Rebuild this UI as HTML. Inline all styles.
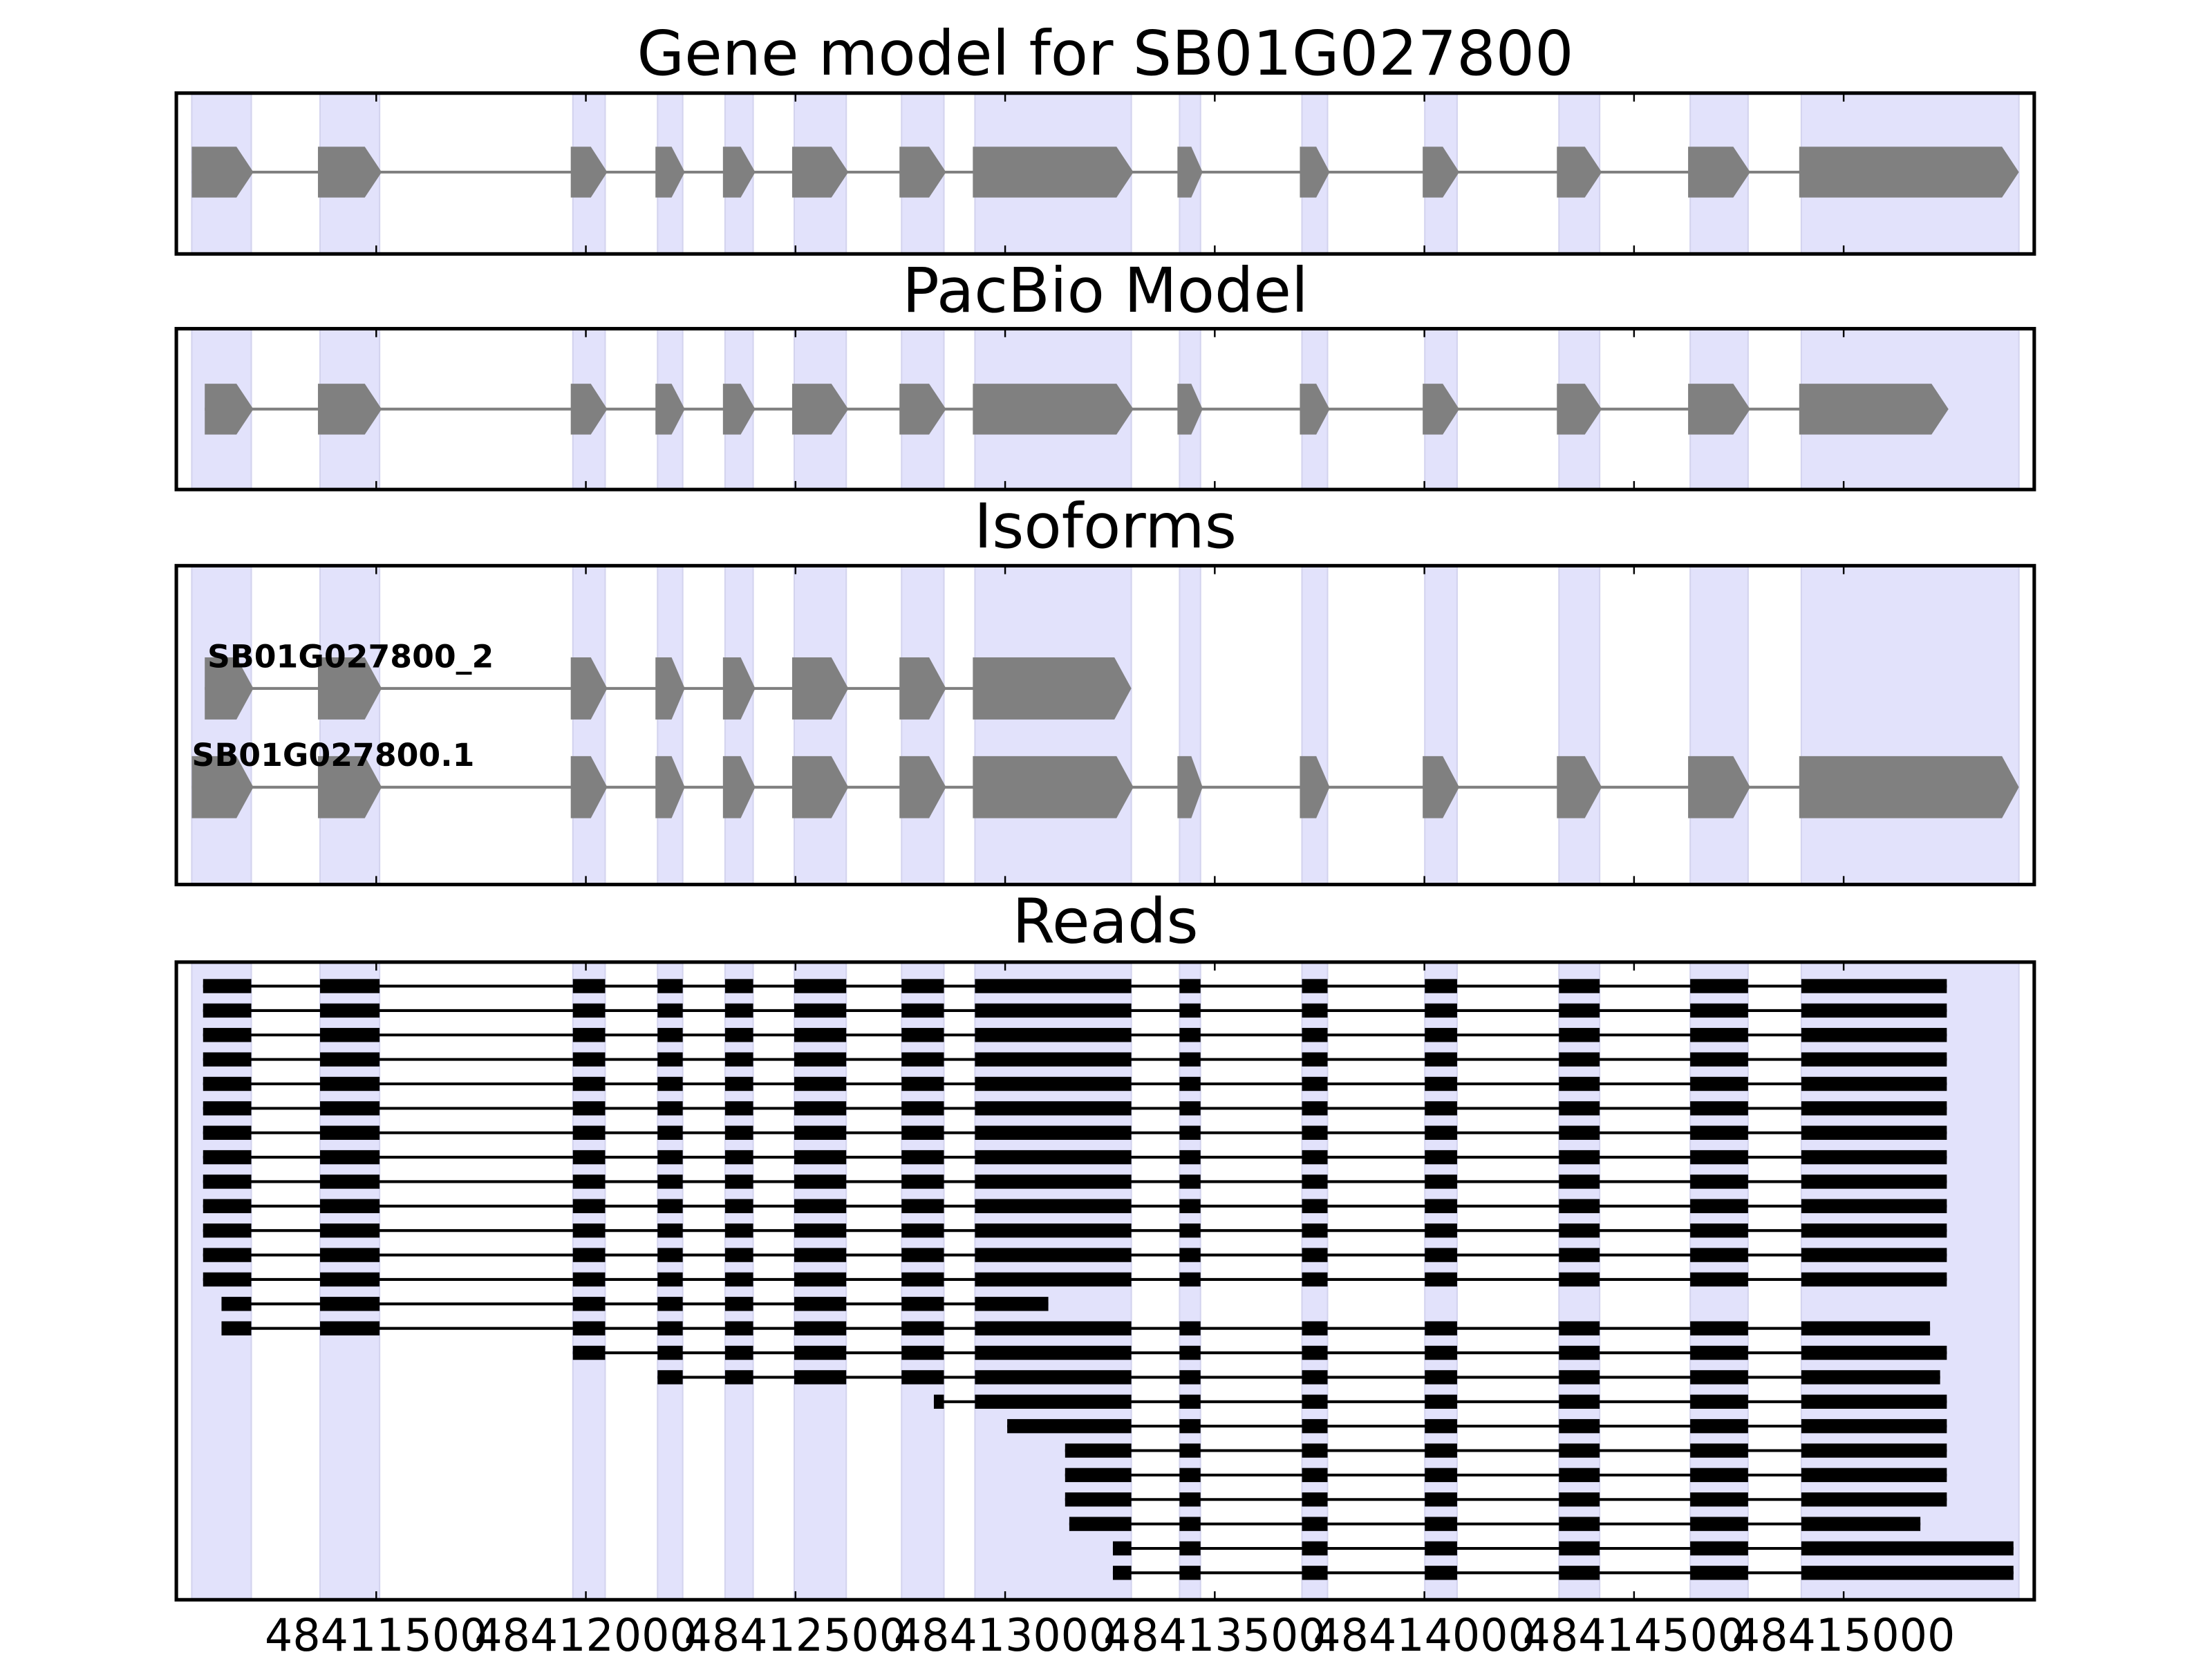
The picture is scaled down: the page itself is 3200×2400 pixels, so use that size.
<!DOCTYPE html>
<html><head><meta charset="utf-8"><style>
html,body{margin:0;padding:0;background:#fff;}
svg{display:block;}
</style></head><body>
<svg id="chart" width="3200" height="2400" viewBox="0 0 1568 1176" xmlns="http://www.w3.org/2000/svg" font-family="'DejaVu Sans','Liberation Sans',sans-serif"></svg>
<script>
// ---- data ----
const tickValues = [48411500,48412000,48412500,48413000,48413500,48414000,48414500,48415000];
const tickLabels = ["48411500","48412000","48412500","48413000","48413500","48414000","48414500","48415000"];
const bandStarts = [48411060,48411366,48411969,48412171,48412332,48412497,48412753,48412928,48413416,48413708,48414001,48414321,48414634,48414899];
const bandEnds   = [48411202,48411508,48412046,48412231,48412399,48412621,48412854,48413301,48413466,48413769,48414078,48414418,48414772,48415418];
const geneModelStart = 48411056, geneModelEnd = 48415425;
const pacbioStart = 48411091, pacbioEnd = 48415250;
const isoformNames = ["SB01G027800_2","SB01G027800.1"];
const isoformStarts = [48411091, 48411056];
const isoformEnds = [48413305, 48415425];
const readStarts = [48411087,48411087,48411087,48411087,48411087,48411087,48411087,48411087,48411087,48411087,48411087,48411087,48411087,
  48411131,48411131,48411969,48412171,48412830,48413005,48413143,48413143,48413143,48413153,48413257,48413257];
const readEnds = [48415246,48415246,48415246,48415246,48415246,48415246,48415246,48415246,48415246,48415246,48415246,48415246,48415246,
  48413103,48415206,48415246,48415230,48415246,48415246,48415246,48415246,48415246,48415183,48415405,48415405];

// ---- layout ----
const svg = document.getElementById('chart');
const NS = 'http://www.w3.org/2000/svg';
const X0 = 125, X1 = 1442;
function x(v){ return 266.7 + (v - 48411500) * 0.2972; }
function mk(tag, attrs, parent){
  const e = document.createElementNS(NS, tag);
  for (const k in attrs) e.setAttribute(k, attrs[k]);
  (parent || svg).appendChild(e);
  return e;
}
const panels = [
  {title:'Gene model for SB01G027800', top:66, bot:180, ty:38, name:'gene-model-panel'},
  {title:'PacBio Model', top:233, bot:347, ty:206, name:'pacbio-panel'},
  {title:'Isoforms', top:401, bot:627, ty:373, name:'isoforms-panel'},
  {title:'Reads', top:682, bot:1134, ty:653, name:'reads-panel'}
];
function exonsIn(s, e){
  const out = [];
  for (let i = 0; i < bandStarts.length; i++){
    const a = Math.max(bandStarts[i], s), b = Math.min(bandEnds[i], e);
    if (b > a) out.push([a, b]);
  }
  return out;
}
function drawModel(g, s, e, cy, h){
  const ex = exonsIn(s, e);
  const line = mk('line', {x1:x(ex[0][0]), x2:x(ex[ex.length-1][1]) - 5, y1:cy, y2:cy, stroke:'#808080', 'stroke-width':2}, g);
  
  
  ex.forEach((exn, i, arr) => {
    let a = x(exn[0]) - 1.5, b = x(exn[1]) + 1.5;
    if (i === 0) a = x(exn[0]);
    if (i === arr.length - 1) b = x(exn[1]);
    const w = b - a, tip = Math.min(12, w * 0.45);
    const p = mk('polygon', {points:`${a},${cy-h/2} ${b-tip},${cy-h/2} ${b},${cy} ${b-tip},${cy+h/2} ${a},${cy+h/2}`, fill:'#808080'}, g);
    
    
  });
}

panels.forEach((p, pi) => {
  const g = mk('g', {});
  
  
  for (let i = 0; i < bandStarts.length; i++){
    const r = mk('rect', {x:x(bandStarts[i]), y:p.top, width:x(bandEnds[i]) - x(bandStarts[i]), height:p.bot - p.top, fill:'#e2e2fb', stroke:'#d3d3ee', 'stroke-width':1}, g);
    
    
  }
  const t = mk('text', {x:(X0 + X1) / 2, y:p.ty + 15, 'text-anchor':'middle', 'font-size':43.5, fill:'#000'});
  t.textContent = p.title;
  
  
  svg.appendChild(t);

  if (pi === 0) drawModel(g, geneModelStart, geneModelEnd, 122, 36);
  if (pi === 1) drawModel(g, pacbioStart, pacbioEnd, 290, 36);
  if (pi === 2){
    const cys = [488, 558], lx = [147, 136], ly = [473, 543];
    isoformNames.forEach((n, i) => {
      drawModel(g, isoformStarts[i], isoformEnds[i], cys[i], 44);
      const lt = mk('text', {x:lx[i], y:ly[i], 'font-size':22.4, 'font-weight':'bold', fill:'#000'}, g);
      lt.textContent = n;
      
      
    });
  }
  if (pi === 3){
    readStarts.forEach((s, i) => {
      const cy = 699 + i * 17.33, e = readEnds[i];
      const rg = mk('g', {}, g);
      
      
      mk('line', {x1:x(s), x2:x(e), y1:cy, y2:cy, stroke:'#000', 'stroke-width':2}, rg);
      exonsIn(s, e).forEach(ex => {
        const b = mk('rect', {x:x(ex[0]), y:cy - 5, width:x(ex[1]) - x(ex[0]), height:10, fill:'#000'}, rg);
        
        
      });
    });
  }
  tickValues.forEach(v => {
    mk('line', {x1:x(v), x2:x(v), y1:p.top, y2:p.top + 6, stroke:'#000', 'stroke-width':1.2}, g);
    mk('line', {x1:x(v), x2:x(v), y1:p.bot, y2:p.bot - 6, stroke:'#000', 'stroke-width':1.2}, g);
  });
  const fr = mk('rect', {x:X0, y:p.top, width:X1 - X0, height:p.bot - p.top, fill:'none', stroke:'#000', 'stroke-width':2.5}, g);
  
  
});
tickValues.forEach((v, i) => {
  const t = mk('text', {x:x(v), y:1170, 'text-anchor':'middle', 'font-size':32, fill:'#000', textLength:158, lengthAdjust:'spacingAndGlyphs'});
  t.textContent = tickLabels[i];
  
  
});
</script>
</body></html>
